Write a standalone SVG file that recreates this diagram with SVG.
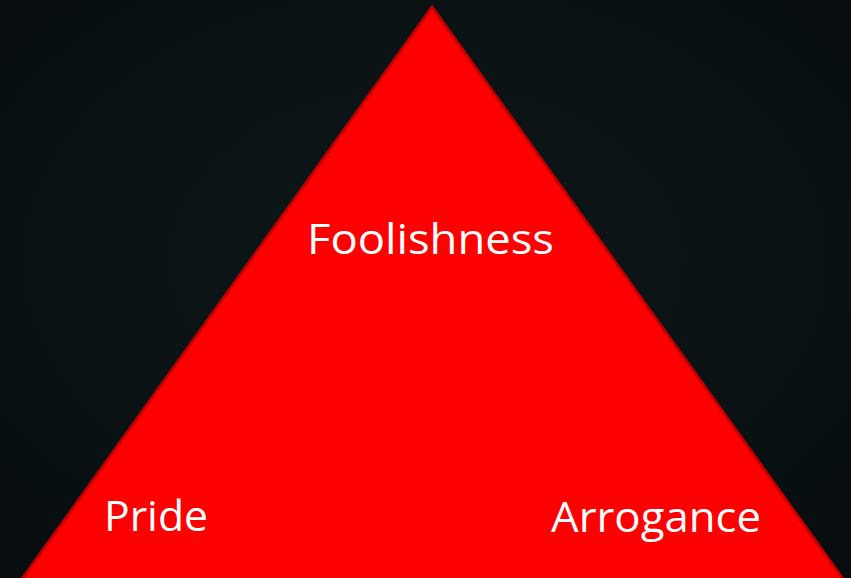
<svg xmlns="http://www.w3.org/2000/svg" width="851" height="578" viewBox="0 0 851 578">
<defs>
<radialGradient id="bg" cx="0.5" cy="0.45" r="0.75">
<stop offset="0" stop-color="#0d1618"/>
<stop offset="0.6" stop-color="#0a1214"/>
<stop offset="1" stop-color="#070c0e"/>
</radialGradient>
<style>
.lbl{font-family:"Open Sans","Liberation Sans",sans-serif;font-size:42px;fill:#ffffff;}
</style>
</defs>
<rect width="851" height="578" fill="url(#bg)"/>
<g id="triangle">
<polygon points="432,7 843,579 22,579" fill="#ff0000" stroke="#c00000" stroke-width="3" stroke-linejoin="miter"/>
</g>
<g id="foolishness"><text class="lbl" x="307" y="254" textLength="247" lengthAdjust="spacingAndGlyphs">Foolishness</text></g>
<g id="pride"><text class="lbl" x="104" y="531" textLength="104" lengthAdjust="spacingAndGlyphs">Pride</text></g>
<g id="arrogance"><text class="lbl" x="551" y="532" textLength="210" lengthAdjust="spacingAndGlyphs">Arrogance</text></g>
</svg>
